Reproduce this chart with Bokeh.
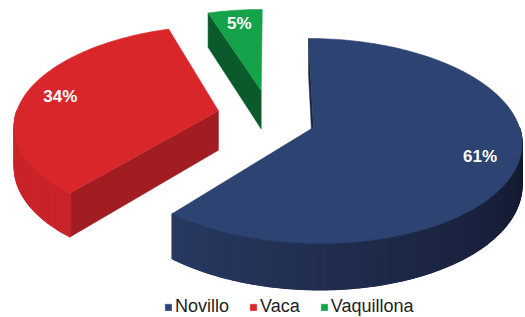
import numpy as np
from bokeh.plotting import figure
from bokeh.models import Range1d, Legend, LegendItem, ColumnDataSource
from bokeh.core.properties import value
from bokeh.embed import file_html
from bokeh.resources import INLINE

# ---- data ----
categories = ["Novillo", "Vaca", "Vaquillona"]
shares = [61, 34, 5]
pct_labels = ["61%", "34%", "5%"]

# ---- style ----
top_colors = ["#2D4371", "#D8262B", "#14A24B"]
side_dark = ["#11152A", "#B81F26", "#0A5A2B"]
side_light = ["#2A3C65", "#C9242A", "#0C6431"]
radial_colors = ["#1A2340", "#A11D22", "#0A5A2B"]
explode = [(0.207, 0.075), (-0.26, -0.095), (-0.049, -0.311)]  # offsets in pie plane

CX, CY, RX, RY, K, DEPTH = 270.3, 119.5, 204.0, 98.7, 0.13, 40.0
W, H = 525, 317


def proj(X, Z, h=0.0):
    s = 1.0 / (1.0 - K * Z)
    return CX + X * RX * s, CY + (Z * RY + h * DEPTH) * s


def plane(off, r, theta_deg):
    t = np.radians(theta_deg)
    return off[0] + r * np.sin(t), off[1] - r * np.cos(t)


def mix(c1, c2, f):
    a = [int(c1[i:i + 2], 16) for i in (1, 3, 5)]
    b = [int(c2[i:i + 2], 16) for i in (1, 3, 5)]
    return "#%02x%02x%02x" % tuple(int(round(a[j] + (b[j] - a[j]) * f)) for j in range(3))


total = float(sum(shares))
ends = np.cumsum(shares) / total * 360.0
starts = ends - np.array(shares) / total * 360.0

p = figure(width=W, height=H, output_backend="svg", toolbar_location=None,
           x_range=Range1d(0, W), y_range=Range1d(H, 0), min_border=0)
p.axis.visible = False
p.grid.visible = False
p.outline_line_color = None
p.background_fill_color = "white"
p.border_fill_color = "white"

base_xs, base_ys, base_cols = [], [], []
side_xs, side_ys, side_cols = [], [], []
camera = (0.0, 1.0 / K)
order = np.argsort([e[1] for e in explode])
for i in order:
    a1, a2 = starts[i], ends[i]
    off = explode[i]
    # radial faces
    for ang, sign in ((a1, -1.0), (a2, 1.0)):
        t = np.radians(ang)
        n = (sign * np.cos(t), sign * np.sin(t))
        if (camera[0] - off[0]) * n[0] + (camera[1] - off[1]) * n[1] > 0.05:
            ax, az = off
            rx_, rz_ = plane(off, 1.0, ang)
            pts = [proj(ax, az, 0), proj(rx_, rz_, 0), proj(rx_, rz_, 1), proj(ax, az, 1)]
            base_xs.append([q[0] for q in pts])
            base_ys.append([q[1] for q in pts])
            base_cols.append(radial_colors[i])
    # outer curved side (front-facing part)
    lo, hi = max(a1, 90.0), min(a2, 270.0)
    if hi > lo:
        nseg = max(2, int((hi - lo) / 1.0))
        th = np.linspace(lo, hi, nseg + 1)
        top = [proj(*plane(off, 1.0, t), 0) for t in th]
        bot = [proj(*plane(off, 1.0, t), 1) for t in th]
        band = top + bot[::-1]
        base_xs.append([q[0] for q in band])
        base_ys.append([q[1] for q in band])
        base_cols.append(mix(side_dark[i], side_light[i], 0.6))
        for j in range(nseg):
            pts = [top[j], top[j + 1], bot[j + 1], bot[j]]
            side_xs.append([q[0] for q in pts])
            side_ys.append([q[1] for q in pts])
            f = np.clip((0.5 * (th[j] + th[j + 1]) - 90.0) / 140.0, 0, 1)
            side_cols.append(mix(side_dark[i], side_light[i], f))

p.patches("xs", "ys", source=ColumnDataSource(dict(xs=base_xs, ys=base_ys, c=base_cols)),
          fill_color="c", line_color="c", line_width=0.5)
p.patches("xs", "ys", source=ColumnDataSource(dict(xs=side_xs, ys=side_ys, c=side_cols)),
          fill_color="c", line_color="c", line_width=1.2)

top_renderers = []
for i in range(len(shares)):
    off = explode[i]
    th = np.linspace(starts[i], ends[i], max(4, int(shares[i] * 3.6 / 1.5)))
    pts = [proj(*off)] + [proj(*plane(off, 1.0, t)) for t in th]
    r = p.patch([q[0] for q in pts], [q[1] for q in pts], fill_color=top_colors[i],
                line_color=top_colors[i], line_width=0.6)
    top_renderers.append(r)

# percentage labels
lx, ly = [], []
for i in range(len(shares)):
    mid = 0.5 * (starts[i] + ends[i])
    X, Z = plane(explode[i], 0.82, mid)
    x, y = proj(X, Z)
    lx.append(x)
    ly.append(y)
p.text(x=lx, y=ly, text=pct_labels, text_color="white", text_font=value("Liberation Sans"),
       text_font_style="bold", text_font_size="17px", text_align="center", text_baseline="middle")

legend = Legend(items=[LegendItem(label=c, renderers=[r]) for c, r in zip(categories, top_renderers)],
                orientation="horizontal", location=(164, 0), glyph_width=8, glyph_height=8,
                label_standoff=3, spacing=20, padding=0, margin=0, border_line_alpha=0,
                background_fill_alpha=0, label_text_font_size="18px",
                label_text_font="Liberation Sans", label_text_color="#1E1E1E", label_height=18)
p.add_layout(legend)

open("out.html", "w").write(file_html(p, INLINE))
